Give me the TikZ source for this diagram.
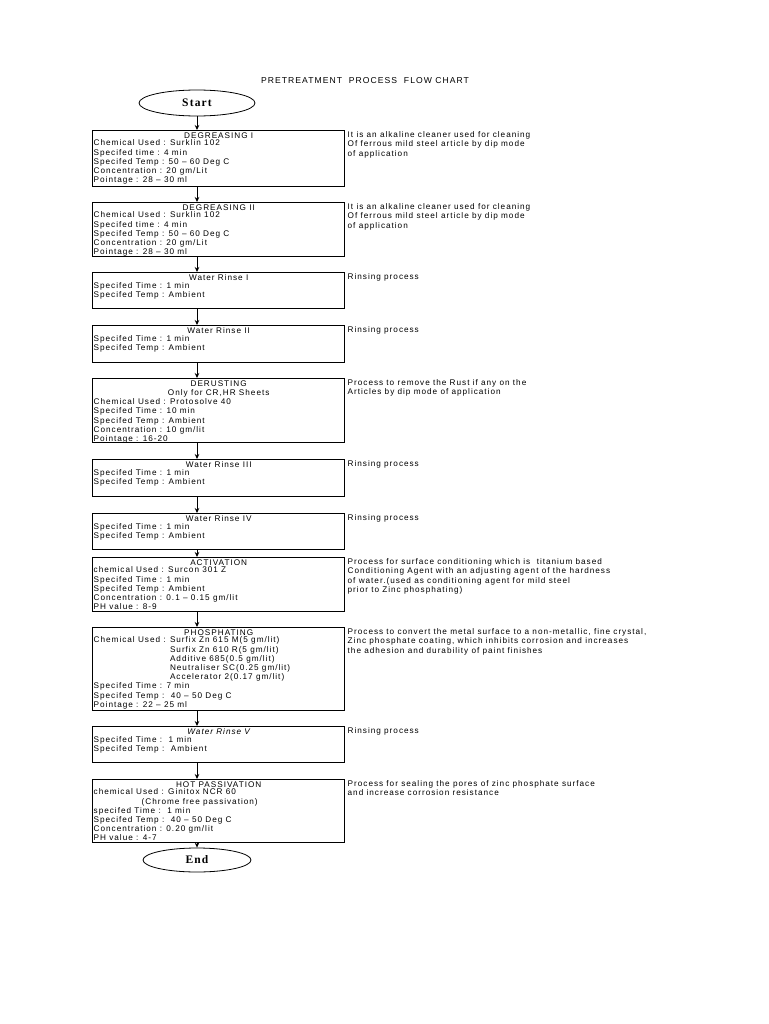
\documentclass[tikz,border=0pt]{standalone}
\usepackage{fontspec}
\setmainfont[LetterSpace=12]{Liberation Sans}
\newfontfamily\capfont[LetterSpace=10]{Liberation Serif}
\usetikzlibrary{arrows.meta,positioning,shapes.geometric}

\begin{document}
\begin{tikzpicture}[x=1pt, y=-1pt, >={Stealth[length=5pt,width=4.5pt]},
    every node/.style={font=\fontsize{8.2}{9.2}\selectfont},
    stepbox/.style={draw, line width=1.4pt, anchor=north west, minimum width=252pt, inner sep=0pt},
    boxtitle/.style={anchor=north, inner sep=0.5pt, yshift=-2pt},
    boxtext/.style={anchor=north west, align=left, inner sep=0.5pt, xshift=1pt},
    note/.style={anchor=north west, align=left, inner sep=0.6pt, xshift=1.5pt, yshift=-1pt},
    endcap/.style={draw, line width=0.8pt, ellipse, inner sep=0pt, font=\capfont\bfseries\fontsize{11.5}{12}\selectfont},
    flow/.style={->, line width=0.8pt}]
    \useasboundingbox (0,0) rectangle (768,1024);
    % title and start
    \node[font=\fontsize{8.6}{10}\selectfont] (title) at (365,81) {PRETREATMENT\ \ PROCESS\ \ FLOW CHART};
    \node[endcap, minimum width=116pt, minimum height=26pt] (start) at (197,103) {Start};
    % degreasing I
    \node[stepbox, minimum height=56pt] (degA) at (92,130) {};
    \node[boxtitle] (degAt) at (degA.north) {DEGREASING I};
    \node[boxtext] (degAb) at (degAt.south -| degA.west) {Chemical Used : Surklin 102\\
      Specifed time : 4 min\\ Specifed Temp : 50 -- 60 Deg C\\ Concentration : 20 gm/Lit\\ Pointage : 28 -- 30 ml};
    \node[note] (degAn) at (degA.north east) {It is an alkaline cleaner used for cleaning\\
      Of ferrous mild steel article by dip mode\\ of application};
    % degreasing II
    \node[stepbox, minimum height=54pt] (degB) at (92,202) {};
    \node[boxtitle] (degBt) at (degB.north) {DEGREASING II};
    \node[boxtext] (degBb) at (degBt.south -| degB.west) {Chemical Used : Surklin 102\\
      Specifed time : 4 min\\ Specifed Temp : 50 -- 60 Deg C\\ Concentration : 20 gm/Lit\\ Pointage : 28 -- 30 ml};
    \node[note] (degBn) at (degB.north east) {It is an alkaline cleaner used for cleaning\\
      Of ferrous mild steel article by dip mode\\ of application};
    % water rinse I
    \node[stepbox, minimum height=36pt] (rinA) at (92,272) {};
    \node[boxtitle] (rinAt) at (rinA.north) {Water Rinse I};
    \node[boxtext] (rinAb) at (rinAt.south -| rinA.west) {Specifed Time : 1 min\\ Specifed Temp : Ambient};
    \node[note] (rinAn) at (rinA.north east) {Rinsing process};
    % water rinse II
    \node[stepbox, minimum height=37pt] (rinB) at (92,325) {};
    \node[boxtitle] (rinBt) at (rinB.north) {Water Rinse II};
    \node[boxtext] (rinBb) at (rinBt.south -| rinB.west) {Specifed Time : 1 min\\ Specifed Temp : Ambient};
    \node[note] (rinBn) at (rinB.north east) {Rinsing process};
    % derusting
    \node[stepbox, minimum height=64pt] (derust) at (92,378) {};
    \node[boxtitle, align=center] (derustt) at (derust.north) {DERUSTING\\ Only for CR,HR Sheets};
    \node[boxtext] (derustb) at (derustt.south -| derust.west) {Chemical Used : Protosolve 40\\
      Specifed Time : 10 min\\ Specifed Temp : Ambient\\ Concentration : 10 gm/lit\\ Pointage : 16-20};
    \node[note] (derustn) at (derust.north east) {Process to remove the Rust if any on the\\
      Articles by dip mode of application};
    % water rinse III
    \node[stepbox, minimum height=37pt] (rinC) at (92,459) {};
    \node[boxtitle] (rinCt) at (rinC.north) {Water Rinse III};
    \node[boxtext] (rinCb) at (rinCt.south -| rinC.west) {Specifed Time : 1 min\\ Specifed Temp : Ambient};
    \node[note] (rinCn) at (rinC.north east) {Rinsing process};
    % water rinse IV
    \node[stepbox, minimum height=36pt] (rinD) at (92,513) {};
    \node[boxtitle] (rinDt) at (rinD.north) {Water Rinse IV};
    \node[boxtext] (rinDb) at (rinDt.south -| rinD.west) {Specifed Time : 1 min\\ Specifed Temp : Ambient};
    \node[note] (rinDn) at (rinD.north east) {Rinsing process};
    % activation
    \node[stepbox, minimum height=54pt] (activ) at (92,557) {};
    \node[boxtitle] (activt) at (activ.north) {ACTIVATION};
    \node[boxtext] (activb) at (activt.south -| activ.west) {chemical Used : Surcon 301 Z\\
      Specifed Time : 1 min\\ Specifed Temp : Ambient\\ Concentration : 0.1 -- 0.15 gm/lit\\ PH value : 8-9};
    \node[note] (activn) at (activ.north east) {Process for surface conditioning which is\ \ titanium based\\
      Conditioning Agent with an adjusting agent of the hardness\\
      of water.(used as conditioning agent for mild steel\\ prior to Zinc phosphating)};
    % phosphating
    \node[stepbox, minimum height=83pt] (phos) at (92,627) {};
    \node[boxtitle] (phost) at (phos.north) {PHOSPHATING};
    \node[boxtext] (phosb) at (phost.south -| phos.west) {Chemical Used : Surfix Zn 615 M(5 gm/lit)\\
      \phantom{Chemical Used : }Surfix Zn 610 R(5 gm/lit)\\
      \phantom{Chemical Used : }Additive 685(0.5 gm/lit)\\
      \phantom{Chemical Used : }Neutraliser SC(0.25 gm/lit)\\
      \phantom{Chemical Used : }Accelerator 2(0.17 gm/lit)\\
      Specifed Time : 7 min\\ Specifed Temp :\ \ 40 -- 50 Deg C\\ Pointage : 22 -- 25 ml};
    \node[note] (phosn) at (phos.north east) {Process to convert the metal surface to a non-metallic, fine crystal,\\
      Zinc phosphate coating, which inhibits corrosion and increases\\
      the adhesion and durability of paint finishes};
    % water rinse V
    \node[stepbox, minimum height=36pt] (rinE) at (92,726) {};
    \node[boxtitle, font=\fontsize{8.2}{9.2}\selectfont\itshape] (rinEt) at (rinE.north) {Water Rinse V};
    \node[boxtext] (rinEb) at (rinEt.south -| rinE.west) {Specifed Time :\ \ 1 min\\ Specifed Temp :\ \ Ambient};
    \node[note] (rinEn) at (rinE.north east) {Rinsing process};
    % hot passivation
    \node[stepbox, minimum height=63pt] (hotpas) at (92,779) {};
    \node[boxtitle] (hotpast) at (hotpas.north) {HOT PASSIVATION};
    \node[boxtext] (hotpasb) at (hotpast.south -| hotpas.west) {chemical Used : Ginitox NCR 60\\
      \hspace*{48pt}(Chrome free passivation)\\
      specifed Time :\ \ 1 min\\ Specifed Temp :\ \ 40 -- 50 Deg C\\ Concentration : 0.20 gm/lit\\ PH value : 4-7};
    \node[note] (hotpasn) at (hotpas.north east) {Process for sealing the pores of zinc phosphate surface\\
      and increase corrosion resistance};
    \node[endcap, minimum width=108pt, minimum height=24pt] (finish) at (197,860) {End};
    % connectors
    \draw[flow] (start.south) -- (start.south |- degA.north);
    \draw[flow] (start |- degA.south) -- (start |- degB.north);
    \draw[flow] (start |- degB.south) -- (start |- rinA.north);
    \draw[flow] (start |- rinA.south) -- (start |- rinB.north);
    \draw[flow] (start |- rinB.south) -- (start |- derust.north);
    \draw[flow] (start |- derust.south) -- (start |- rinC.north);
    \draw[flow] (start |- rinC.south) -- (start |- rinD.north);
    \draw[flow] (start |- rinD.south) -- (start |- activ.north);
    \draw[flow] (start |- activ.south) -- (start |- phos.north);
    \draw[flow] (start |- phos.south) -- (start |- rinE.north);
    \draw[flow] (start |- rinE.south) -- (start |- hotpas.north);
    \draw[flow] (start |- hotpas.south) -- (finish.north);
  \end{tikzpicture}
\end{document}
